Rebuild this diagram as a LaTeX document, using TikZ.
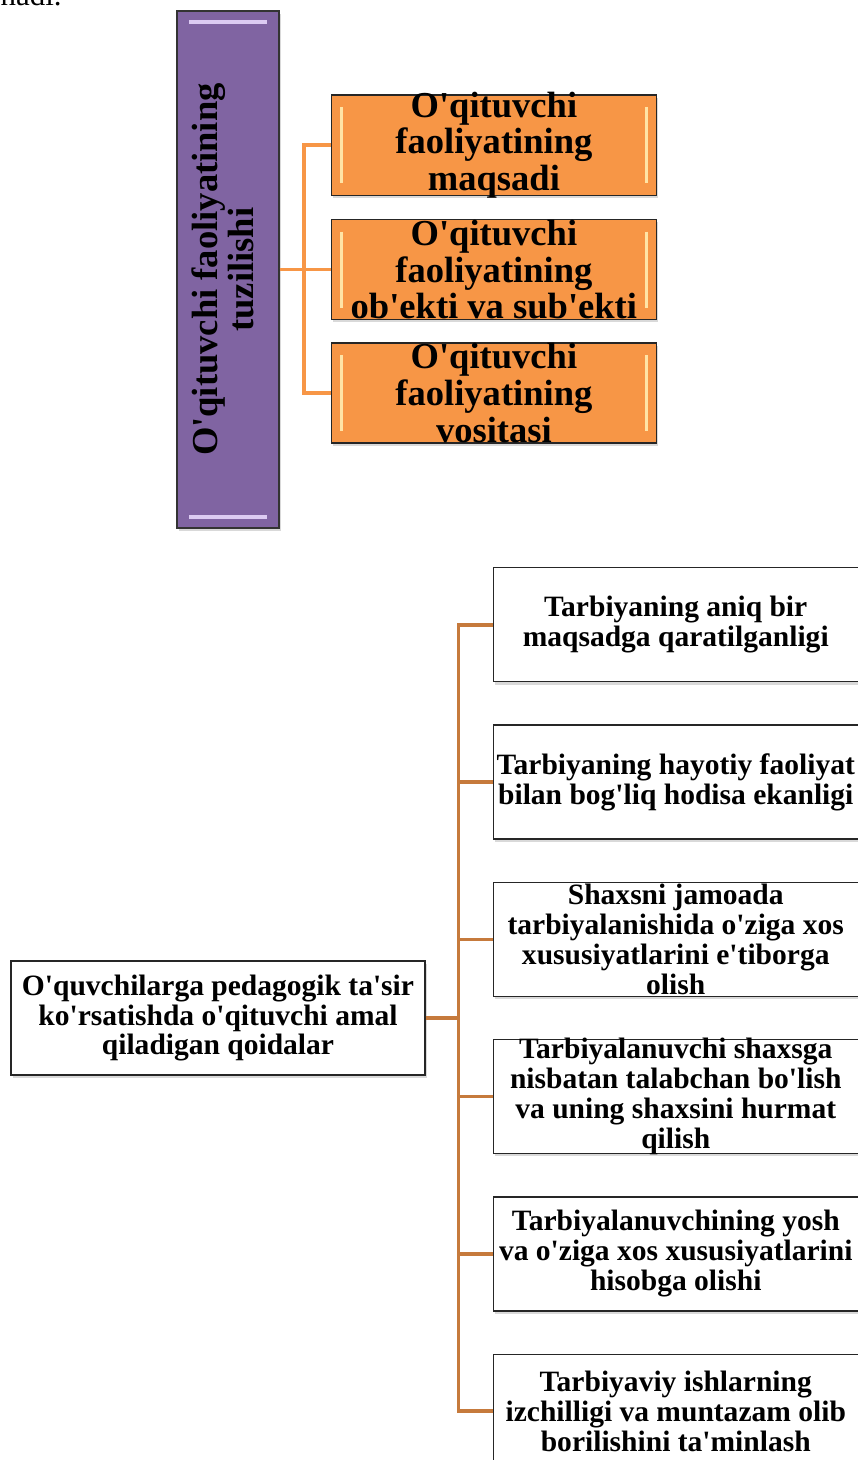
\documentclass[tikz,border=0pt]{standalone}
\usepackage{fontspec}
\newfontfamily\uzfont{Liberation Serif}
\usepackage{xcolor}
\usepackage{tikz}
\usetikzlibrary{positioning, shadows, calc}

\definecolor{tuzpurple}{HTML}{8064A2}
\definecolor{tuzlilac}{HTML}{DCCBF2}
\definecolor{tuzorange}{HTML}{F79646}
\definecolor{tuzcream}{HTML}{FFE4A6}
\definecolor{rulebrown}{HTML}{C67A3C}

\begin{document}
\begin{tikzpicture}[
  fixsize/.style 2 args={inner sep=0pt,
    execute at begin node={\begin{minipage}[c][#2][c]{#1}\centering},
    execute at end node={\end{minipage}}},
  boxshadow/.style={drop shadow={shadow xshift=0.05cm, shadow yshift=-0.07cm,
    opacity=0.3}},
  mainbox/.style={rectangle, draw=black!80, line width=1pt, fill=tuzpurple,
    minimum width=2.55cm, minimum height=12.925cm, inner sep=0pt, boxshadow,
    path picture={
      \draw[tuzlilac, line width=3pt]
        ([shift={(0.3,-0.28)}]path picture bounding box.north west) --
        ([shift={(-0.3,-0.28)}]path picture bounding box.north east);
      \draw[tuzlilac, line width=3pt]
        ([shift={(0.3,0.28)}]path picture bounding box.south west) --
        ([shift={(-0.3,0.28)}]path picture bounding box.south east);},
    font=\uzfont\bfseries\fontsize{26}{26}\selectfont},
  partbox/.style={rectangle, draw=black!85, line width=1pt, fill=tuzorange,
    fixsize={8.125cm}{2.5cm}, boxshadow,
    path picture={
      \draw[tuzcream, line width=2.5pt]
        ([shift={(0.25,-0.3)}]path picture bounding box.north west) --
        ([shift={(0.25,0.3)}]path picture bounding box.south west);
      \draw[tuzcream, line width=2.5pt]
        ([shift={(-0.25,-0.3)}]path picture bounding box.north east) --
        ([shift={(-0.25,0.3)}]path picture bounding box.south east);},
    font=\uzfont\bfseries\fontsize{26}{26}\selectfont},
  boxbase/.style={rectangle, draw=black!85, line width=0.9pt, fill=white,
    boxshadow, font=\uzfont\bfseries\fontsize{21}{21.3}\selectfont},
  rulebox/.style={boxbase, fixsize={9.125cm}{2.85cm}},
  rootbox/.style={boxbase, fixsize={10.35cm}{2.85cm}},
  topline/.style={draw=tuzorange, line width=2.6pt},
  ruleline/.style={draw=rulebrown, line width=2.6pt}
]
\useasboundingbox (0,0) rectangle (21.45,-36.5);

% text cut at the top of the page
\node[anchor=base east, inner sep=0pt, font=\uzfont\fontsize{22}{22}\selectfont]
  (prev) at (1.55,-0.125) {nadi.};

% Tuzilish
\node[mainbox] (tuzilish) at (5.7,-6.74)
  {\rotatebox{90}{\begin{tabular}{@{}c@{}}O'qituvchi faoliyatining\\tuzilishi\end{tabular}}};
\node[partbox, right=1.275cm of tuzilish] (obekt)
  {O'qituvchi\\faoliyatining\\ob'ekti va sub'ekti};
\node[partbox, above=0.575cm of obekt] (maqsad)
  {O'qituvchi\\faoliyatining\\maqsadi};
\node[partbox, below=0.55cm of obekt] (vosita)
  {O'qituvchi\\faoliyatining\\vositasi};

\coordinate (tj) at ($(tuzilish.east)+(0.6,0)$);
\draw[topline] (tuzilish.east) -- (obekt.west);
\draw[topline] (maqsad.west) -| (tj) |- (vosita.west);

% Qoidalar
\node[rootbox] (qoida) at (5.45,-25.45)
  {O'quvchilarga pedagogik ta'sir\\ko'rsatishda o'qituvchi amal\\qiladigan qoidalar};
\node[rulebox, anchor=south west] (r3) at ([shift={(1.675cm,0.525cm)}]qoida.east)
  {Shaxsni jamoada\\tarbiyalanishida o'ziga xos\\xususiyatlarini e'tiborga\\olish};
\node[rulebox, above=1.05cm of r3] (r2)
  {Tarbiyaning hayotiy faoliyat\\bilan bog'liq hodisa ekanligi};
\node[rulebox, above=1.05cm of r2] (r1)
  {Tarbiyaning aniq bir\\maqsadga qaratilganligi};
\node[rulebox, below=1.05cm of r3] (r4)
  {Tarbiyalanuvchi shaxsga\\nisbatan talabchan bo'lish\\va uning shaxsini hurmat\\qilish};
\node[rulebox, below=1.05cm of r4] (r5)
  {Tarbiyalanuvchining yosh\\va o'ziga xos xususiyatlarini\\hisobga olishi};
\node[rulebox, below=1.05cm of r5] (r6)
  {Tarbiyaviy ishlarning\\izchilligi va muntazam olib\\borilishini ta'minlash};

\coordinate (bj) at ($(qoida.east)+(0.825,0)$);
\draw[ruleline] (qoida.east) -- (bj);
\draw[ruleline] (r1.west) -| (bj) |- (r6.west);
\foreach \i in {2,...,5}
  \draw[ruleline] (bj |- r\i.west) -- (r\i.west);

\end{tikzpicture}
\end{document}
